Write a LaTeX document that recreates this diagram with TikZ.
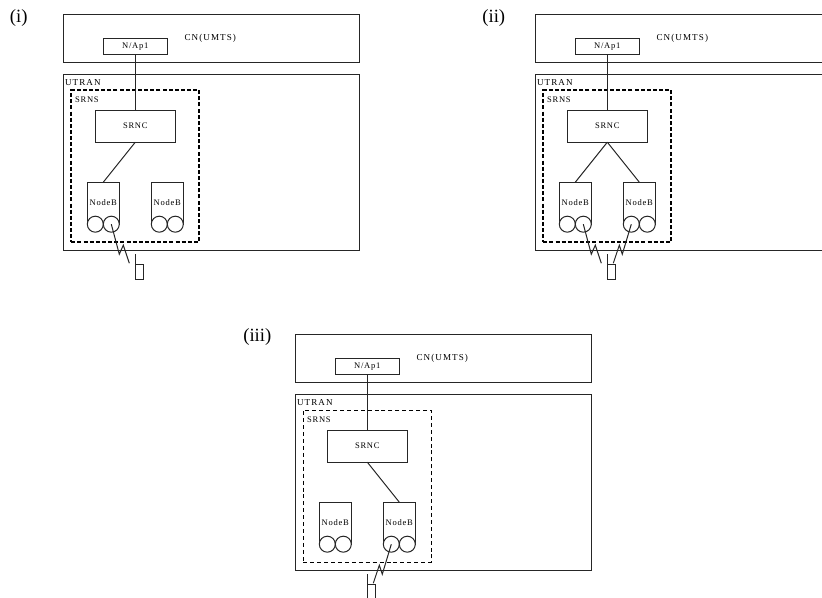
\documentclass[tikz,border=0pt]{standalone}
\usepackage{fontspec}
\setmainfont{Liberation Serif}[LetterSpace=9]
\newfontfamily\panelfont{Liberation Serif}
\newfontfamily\widefont{Liberation Serif}[LetterSpace=12]
\newcommand{\smalltext}{\fontsize{6.4}{7}\selectfont}
\newcommand{\widetext}{\widefont\fontsize{6.8}{7}\selectfont}
\newcommand{\makepanel}[5]{%
\begin{scope}[shift={(#2,#3)}]
  \node[box,minimum width=222pt,minimum height=36pt] (#1cn) at (211,38) {};
  \node[lbl,font=\widetext] (#1cnt) at (210,38.5) {CN(UMTS)};
  \node[box,minimum width=48pt,minimum height=12pt] (#1ap) at (135,46) {N/Ap1};
  \node[box,minimum width=222pt,minimum height=132pt] (#1ut) at (211,162) {};
  \node[lbl,anchor=west,font=\widetext] (#1utt) at (64.5,82.5) {UTRAN};
  \node[box,#4,minimum width=96pt,minimum height=114pt] (#1sr) at (135,166) {};
  \node[lbl,anchor=west] (#1srt) at (74.5,99.5) {SRNS};
  \node[box,minimum width=60pt,minimum height=24pt] (#1rnc) at (135,126) {SRNC};
  \node[box,minimum width=24pt,minimum height=31.5pt] (#1b1) at (103,203) {};
  \node[lbl] (#1b1t) at (103,202.5) {NodeB};
  \node[wheel] (#1c1) at (95,224) {};
  \node[wheel] (#1c2) at (111,224) {};
  \node[box,minimum width=24pt,minimum height=31.5pt] (#1b2) at (167,203) {};
  \node[lbl] (#1b2t) at (167,202.5) {NodeB};
  \node[wheel] (#1c3) at (159,224) {};
  \node[wheel] (#1c4) at (175,224) {};
  \node[box,minimum width=6pt,minimum height=11.25pt] (#1ph) at (#5,271.5) {};
  \coordinate (#1ant) at (#5-4,254);
  \draw[wire] (#1ph.north west) -- (#1ant);
  \draw[wire] (#1ap.south) -- (#1rnc.north);
\end{scope}}
\tikzset{
  box/.style={draw=black!85,line width=.75pt,inner sep=0pt,outer sep=0pt,fill=none,font=\smalltext},
  lbl/.style={inner sep=0pt,font=\smalltext},
  wheel/.style={draw=black!85,line width=.75pt,circle,minimum size=12pt,inner sep=0pt,fill=white},
  wire/.style={draw=black!85,line width=.75pt},
  thickdash/.style={draw=black,line width=1.5pt,dash pattern=on 3pt off 1.6pt},
  thindash/.style={draw=black,line width=.8pt,dash pattern=on 3pt off 2.2pt},
  tag/.style={inner sep=0pt,font=\panelfont\fontsize{14}{16}\selectfont}
}
\begin{document}
\begin{tikzpicture}[x=.75pt,y=-.75pt]
\useasboundingbox (0,0) rectangle (822,598);
\clip (0,0) rectangle (822,598);
\fill[white] (0,0) rectangle (822,598);
\begin{scope}[shift={(.3,.2)}]
\node[tag] (ti) at (18.5,18) {(i)};
\node[tag] (tii) at (493.5,18) {(ii)};
\node[tag] (tiii) at (257,337) {(iii)};
\makepanel{a}{0}{0}{thickdash}{139}
\makepanel{b}{472}{0}{thickdash}{139}
\makepanel{c}{232}{320}{thindash}{139}
% panel i links
\draw[wire] (arnc.south) -- (ab1.north);
\coordinate (az1) at (119,254);
\coordinate (az2) at (123,245);
\coordinate (az3) at (129,263);
\draw[wire] (ac2.center) -- (az1) -- (az2) -- (az3);
% panel ii links
\draw[wire] (brnc.south) -- (bb1.north);
\draw[wire] (brnc.south) -- (bb2.north);
\coordinate (bz1) at (591,254);
\coordinate (bz2) at (595,245);
\coordinate (bz3) at (601,263);
\draw[wire] (bc2.center) -- (bz1) -- (bz2) -- (bz3);
\coordinate (bz4) at (622,254);
\coordinate (bz5) at (619,245);
\coordinate (bz6) at (613,263);
\draw[wire] (bc3.center) -- (bz4) -- (bz5) -- (bz6);
% panel iii links
\draw[wire] (crnc.south) -- (cb2.north);
\coordinate (cz1) at (382,574);
\coordinate (cz2) at (379,565);
\coordinate (cz3) at (373,583);
\draw[wire] (cc3.center) -- (cz1) -- (cz2) -- (cz3);
\end{scope}
\end{tikzpicture}
\end{document}
